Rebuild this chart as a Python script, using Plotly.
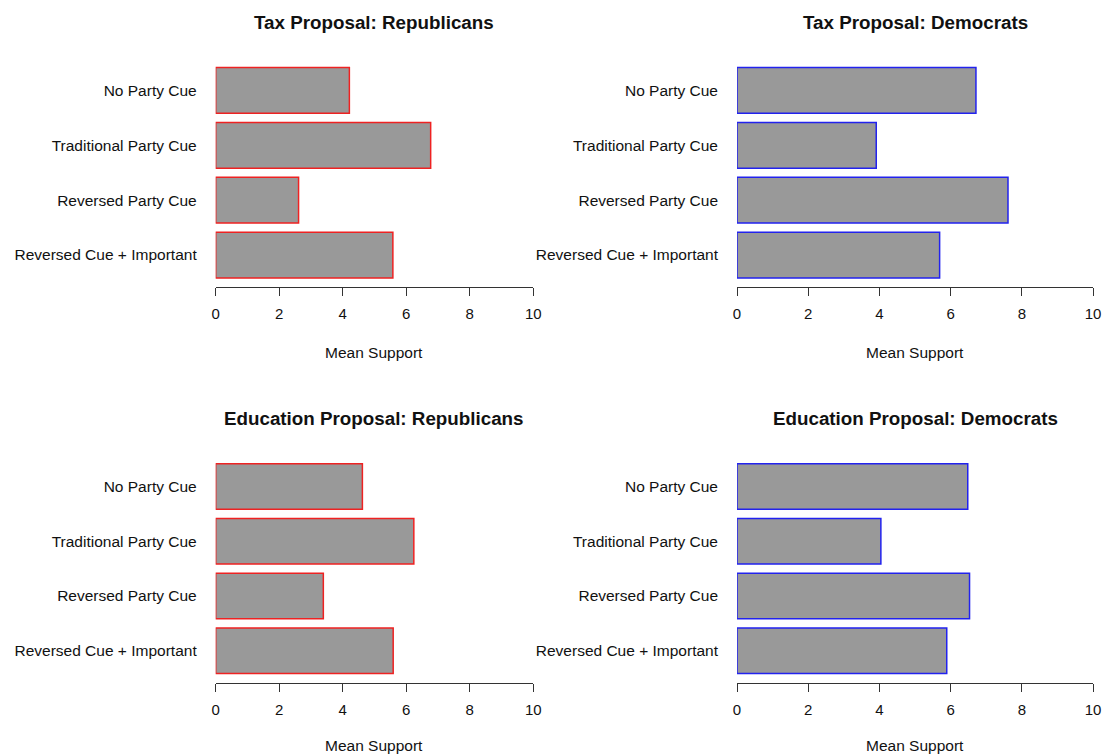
import plotly.graph_objects as go

# Experimental conditions (top to bottom)
conditions = ["No Party Cue", "Traditional Party Cue", "Reversed Party Cue", "Reversed Cue + Important"]

# Mean support per condition, by proposal and party
tax_rep = [4.21, 6.77, 2.61, 5.58]
tax_dem = [6.71, 3.91, 7.61, 5.69]
edu_rep = [4.62, 6.24, 3.39, 5.59]
edu_dem = [6.48, 4.04, 6.53, 5.89]

panel_titles = [
    "Tax Proposal: Republicans",
    "Tax Proposal: Democrats",
    "Education Proposal: Republicans",
    "Education Proposal: Democrats",
]
x_ticks = [0, 2, 4, 6, 8, 10]
x_label = "Mean Support"

W, H = 1112, 755
FONT = "Liberation Sans, Arial, Helvetica, sans-serif"
TXT = "#111111"

# panel placement in pixels: (left, right, top, bottom)
panels = [
    (tax_rep, "#ee2222", (214, 535, 63, 287.4)),
    (tax_dem, "#2222ee", (741, 1101, 63, 287.4)),
    (edu_rep, "#ee2222", (214, 535, 459.2, 683)),
    (edu_dem, "#2222ee", (741, 1101, 459.2, 683)),
]

fig = go.Figure()
annotations = []
layout_axes = {}

for i, ((values, edge, (l, r, t, b)), title) in enumerate(zip(panels, panel_titles), start=1):
    xa = "x" if i == 1 else f"x{i}"
    ya = "y" if i == 1 else f"y{i}"
    fig.add_trace(go.Bar(
        x=values, y=conditions, orientation="h",
        marker=dict(color="#999999", line=dict(color=edge, width=1.5)),
        xaxis=xa, yaxis=ya, showlegend=False, hoverinfo="x+y",
    ))
    xkey = "xaxis" if i == 1 else f"xaxis{i}"
    ykey = "yaxis" if i == 1 else f"yaxis{i}"
    layout_axes[xkey] = dict(
        domain=[l / W, r / W], range=[0, 10], anchor=ya,
        tickvals=x_ticks, ticks="outside", ticklen=8, tickwidth=1, tickcolor="#333333",
        showline=True, linecolor="#333333", linewidth=1, showgrid=False, zeroline=False,
        ticklabelstandoff=5,
        tickfont=dict(family=FONT, size=15, color=TXT), fixedrange=True,
    )
    layout_axes[ykey] = dict(
        domain=[1 - b / H, 1 - t / H], anchor=xa,
        type="category", categoryorder="array", categoryarray=conditions,
        range=[3.59, -0.5], showline=False, showgrid=False, zeroline=False,
        ticks="", ticklabelstandoff=18,
        tickfont=dict(family=FONT, size=15.5, color=TXT), fixedrange=True,
    )
    cx = (l + r) / 2 / W
    annotations.append(dict(
        text=f"<b>{title}</b>", x=cx, y=1 - (t - 41) / H, xref="paper", yref="paper",
        xanchor="center", yanchor="middle", showarrow=False,
        font=dict(family=FONT, size=18.8, color=TXT),
    ))
    annotations.append(dict(
        text=x_label, x=cx, y=1 - min(b + 65, 745) / H, xref="paper", yref="paper",
        xanchor="center", yanchor="middle", showarrow=False,
        font=dict(family=FONT, size=15.5, color=TXT),
    ))

fig.update_layout(
    width=W, height=H, margin=dict(l=0, r=0, t=0, b=0),
    paper_bgcolor="white", plot_bgcolor="white",
    bargap=1 - 1 / 1.2,
    annotations=annotations,
    **layout_axes,
)

fig.write_html("out.html", config={"responsive": False})
